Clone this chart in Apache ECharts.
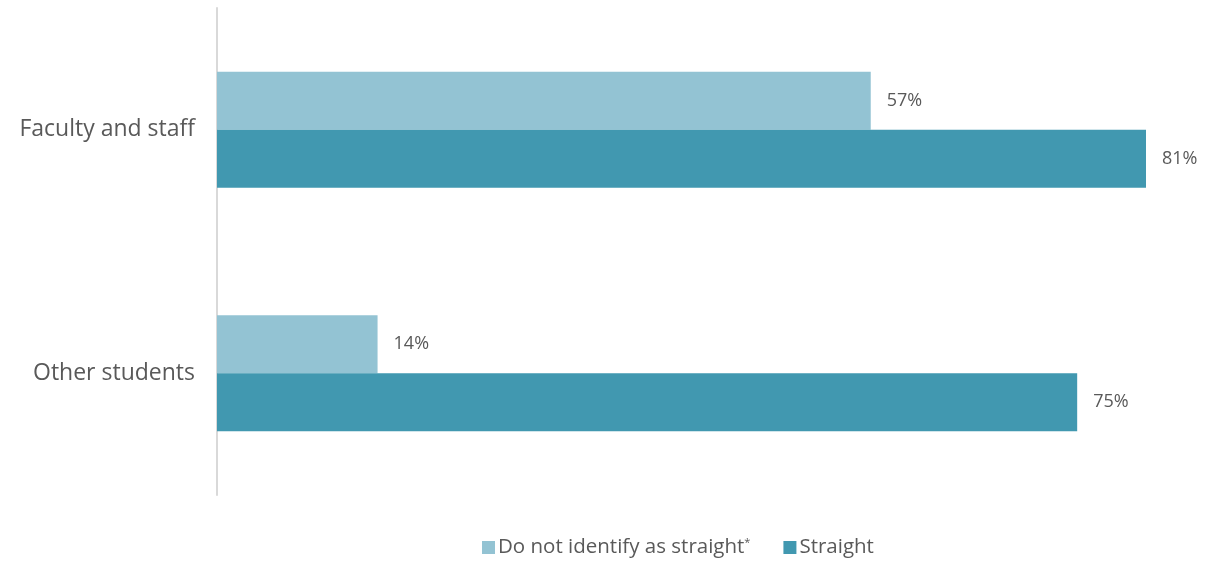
<!DOCTYPE html>
<html>
<head>
<meta charset="utf-8">
<script src="https://cdn.jsdelivr.net/npm/echarts@6/dist/echarts.min.js"></script>
<style>
  html, body { margin: 0; padding: 0; background: #ffffff; }
  #chart { width: 1206px; height: 563px; }
</style>
</head>
<body>
<div id="chart"></div>
<script>
// Groups, top to bottom
const categories = ['Faculty and staff', 'Other students'];
// Share (%) per group
const notStraight = [57, 14];
const straight = [81, 75];
const seriesNames = ['Do not identify as straight*', 'Straight'];

const FONT = '"Open Sans", Lato, sans-serif';
const TEXT = '#595959';

const chart = echarts.init(document.getElementById('chart'));

const valueLabel = {
  show: true,
  position: 'right',
  distance: 16,
  formatter: p => p.value + '%',
  color: TEXT,
  fontFamily: FONT,
  fontSize: 18
};

chart.setOption({
  animation: false,
  textStyle: { fontFamily: FONT },
  grid: { left: 217, right: 60, top: 8, bottom: 68, containLabel: false },
  legend: {
    bottom: 0,
    left: 477,
    itemWidth: 13,
    itemHeight: 13,
    itemGap: 33,
    icon: 'rect',
    textStyle: {
      color: TEXT,
      fontFamily: FONT,
      fontSize: 20.5,
      padding: [0, 0, 0, -2],
      rich: {
        sup: { fontSize: 11, verticalAlign: 'top', color: TEXT, fontFamily: FONT, padding: [0, 0, 8, 0] }
      }
    },
    formatter: name => name.endsWith('*') ? name.slice(0, -1) + '{sup|*}' : name,
    data: seriesNames
  },
  xAxis: {
    type: 'value',
    min: 0,
    max: 81,
    show: false
  },
  yAxis: {
    type: 'category',
    inverse: true,
    data: categories,
    axisLine: { show: true, lineStyle: { color: '#d9d9d9', width: 2 } },
    axisTick: { show: false },
    axisLabel: { color: TEXT, fontFamily: FONT, fontSize: 23, margin: 22 }
  },
  series: [
    {
      name: seriesNames[0],
      type: 'bar',
      data: notStraight,
      barWidth: 58,
      barGap: '0%',
      itemStyle: { color: '#93C3D3' },
      label: valueLabel
    },
    {
      name: seriesNames[1],
      type: 'bar',
      data: straight,
      barWidth: 58,
      barGap: '0%',
      itemStyle: { color: '#4198B0' },
      label: valueLabel
    }
  ]
});
</script>
</body>
</html>
